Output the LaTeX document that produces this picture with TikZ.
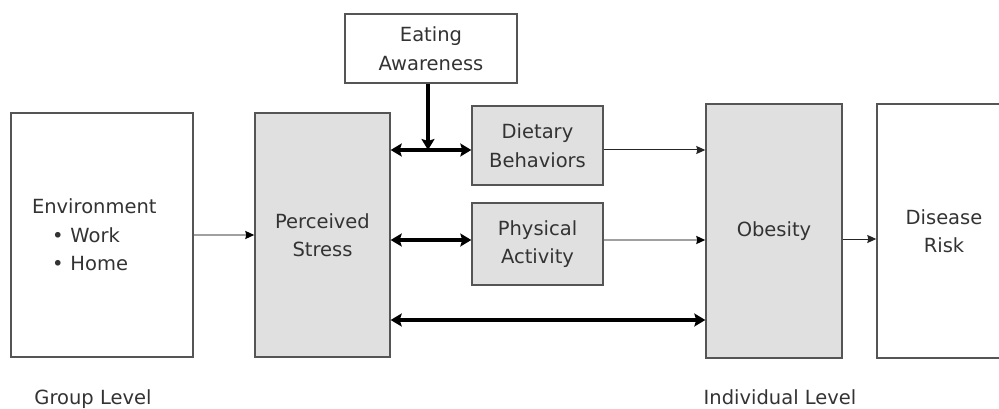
\documentclass[tikz,border=0pt]{standalone}
\usepackage{fontspec}
\setmainfont{DejaVu Sans}
\usetikzlibrary{arrows.meta,calc}
\definecolor{txt}{HTML}{333333}
\definecolor{bord}{HTML}{555555}
\definecolor{fillg}{HTML}{E0E0E0}
\definecolor{lineg}{HTML}{A0A0A0}
\begin{document}
\begin{tikzpicture}[x=1pt,y=-1pt,
  every node/.style={font=\fontsize{19.5}{28.5}\selectfont, text=txt},
  box/.style={draw=bord, line width=1.4pt, rectangle, inner sep=0pt, align=center},
  gbox/.style={box, fill=fillg},
  thickarr/.style={line width=4pt, -{Stealth[length=11pt,width=13pt,inset=2pt]}},
  boththick/.style={line width=4pt, {Stealth[length=11pt,width=13pt,inset=2pt]}-{Stealth[length=11pt,width=13pt,inset=2pt]}},
  thinarr/.style={line width=1pt, draw=black!85, -{Stealth[length=9pt,width=8pt,inset=1pt]}},
  greyarr/.style={line width=1.5pt, draw=lineg, -{Stealth[length=9pt,width=8pt,inset=1pt,color=black]}}]
\clip (0,0) rectangle (999,409);
\fill[white] (0,0) rectangle (999,409);
\node[box, minimum width=172pt, minimum height=69pt] (ea) at (431,48.5) {Eating\\Awareness};
\node[box, minimum width=182pt, minimum height=244pt, text width=140pt, align=left] (env) at (102,235) {Environment\\\hspace{20pt}•\hspace{7pt}Work\\\hspace{20pt}•\hspace{7pt}Home};
\node[gbox, minimum width=135pt, minimum height=244pt] (ps) at (322.5,235) {Perceived\\Stress};
\node[gbox, minimum width=131pt, minimum height=79pt] (db) at (537.5,145.5) {Dietary\\Behaviors};
\node[gbox, minimum width=131pt, minimum height=82pt] (pa) at (537.5,244) {Physical\\Activity};
\node[gbox, minimum width=136pt, minimum height=254pt] (ob) at (774,231) {\raisebox{-4pt}{Obesity}};
\node[box, minimum width=134pt, minimum height=254pt] (dr) at (944,231) {Disease\\Risk};
\node[anchor=base] (gl) at (93,404) {Group Level};
\node[anchor=base] (il) at (780,404) {Individual Level};
\coordinate (join) at (428,150);
% connectors
\draw[greyarr] (env.east) -- (ps.west);
\draw[boththick] (ps.east |- join) -- (db.west |- join);
\draw[thickarr] (ea.south -| join) -- (join);
\draw[boththick] (ps.east |- 0,240) -- (pa.west |- 0,240);
\draw[boththick] (ps.east |- 0,320) -- (ob.west |- 0,320);
\draw[thinarr] (db.east |- 0,150) -- (ob.west |- 0,150);
\draw[greyarr] (pa.east |- 0,240) -- (ob.west |- 0,240);
\draw[thinarr] (ob.east |- 0,239) -- (dr.west |- 0,239);
\end{tikzpicture}
\end{document}
